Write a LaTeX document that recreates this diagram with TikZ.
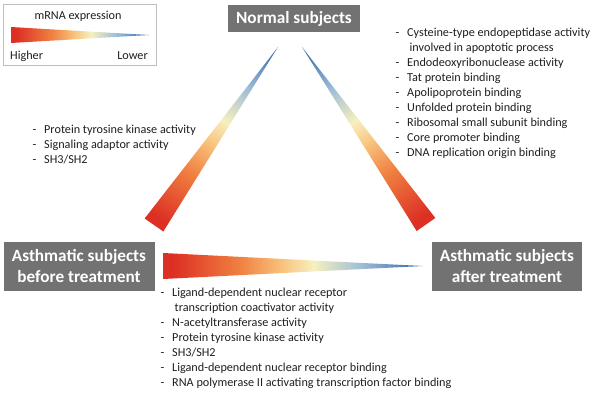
\documentclass[tikz,border=0pt]{standalone}
\usepackage{fontspec}
\setmainfont{Carlito}
\usepackage{xcolor}
\usepackage{tikz}
\usetikzlibrary{calc}

\definecolor{boxgray}{RGB}{114,114,114}
\definecolor{framegray}{RGB}{190,190,190}
\definecolor{txt}{RGB}{30,30,30}
\definecolor{wred}{RGB}{221,48,36}
\definecolor{worange}{RGB}{240,130,66}
\definecolor{wpeach}{RGB}{248,196,126}
\definecolor{wcream}{RGB}{246,240,192}
\definecolor{wsky}{RGB}{160,190,214}
\definecolor{wblue}{RGB}{66,114,178}

\pgfdeclarehorizontalshading{expr}{100bp}{color(0bp)=(wred); color(27bp)=(wred); color(40bp)=(worange); color(48bp)=(wpeach); color(54bp)=(wcream); color(63bp)=(wsky); color(73bp)=(wblue); color(100bp)=(wblue)}

\newcommand{\term}[1]{\makebox[11.5pt][l]{-}#1}
\newcommand{\cont}[1]{\hspace*{14pt}#1}
\newcommand{\gradwedge}[3]{%
  \path let \p1=(#1), \p2=($(#2)-(#1)$) in \pgfextra{%
    \pgfmathsetmacro\wx{\x1}\pgfmathsetmacro\wy{\y1}%
    \pgfmathsetmacro\wang{atan2(\y2,\x2)}\pgfmathsetmacro\wlen{veclen(\x2,\y2)}%
    \global\let\wx\wx\global\let\wy\wy\global\let\wang\wang\global\let\wlen\wlen};
  \begin{scope}[transform canvas={shift={(\wx pt,\wy pt)},rotate=\wang}]
    \shade[shading=expr] (0pt,-#3pt) -- (\wlen pt,0pt) -- (0pt,#3pt) -- cycle;
  \end{scope}}

\begin{document}
\begin{tikzpicture}[
x=1pt,y=-1pt,
group/.style={fill=boxgray, text=white, font=\fontsize{17.2}{21}\selectfont\bfseries, align=center, inner sep=0pt},
terms/.style={font=\fontsize{12.2}{15}\selectfont, text=txt, align=left, anchor=north west, inner sep=0pt},
legtext/.style={font=\fontsize{12.2}{15}\selectfont, text=txt, inner sep=0pt},
legframe/.style={draw=framegray, line width=1pt}
]
\useasboundingbox (0,0) rectangle (595,392);

\draw[legframe] (3,4) rectangle (156,65);
\node[legtext] (legtitle) at (78,16) {mRNA expression};
\node[legtext, anchor=west] (higher) at (10,56) {Higher};
\node[legtext, anchor=east] (lower) at (148,56) {Lower};
\coordinate (leghi) at (11,35);
\coordinate (leglo) at (149,35);
\gradwedge{leghi}{leglo}{8}

\node[group, minimum width=132pt, minimum height=27pt] (normal) at (294,18.5) {Normal subjects};
\node[group, minimum width=151pt, minimum height=49pt] (before) at (79,266.5) {Asthmatic subjects\\before treatment};
\node[group, minimum width=150pt, minimum height=49pt] (after) at (507,266.5) {Asthmatic subjects\\after treatment};

\coordinate (beforeup) at (154,225);
\coordinate (normalleft) at (278,47);
\coordinate (afterup) at (426,224.5);
\coordinate (normalright) at (302,47);
\coordinate (beforeright) at (163,266);
\coordinate (afterleft) at (423,266);
\gradwedge{beforeup}{normalleft}{11.4}
\gradwedge{afterup}{normalright}{11.4}
\gradwedge{beforeright}{afterleft}{13}

\node[terms] (normalterms) at (395.5,28) {\term{Cysteine-type endopeptidase activity}\\\cont{involved in apoptotic process}\\\term{Endodeoxyribonuclease activity}\\\term{Tat protein binding}\\\term{Apolipoprotein binding}\\\term{Unfolded protein binding}\\\term{Ribosomal small subunit binding}\\\term{Core promoter binding}\\\term{DNA replication origin binding}};
\node[terms] (beforeterms) at (32.5,124.5) {\term{Protein tyrosine kinase activity}\\\term{Signaling adaptor activity}\\\term{SH3/SH2}};
\node[terms] (afterterms) at (160.5,287.5) {\term{Ligand-dependent nuclear receptor}\\\cont{transcription coactivator activity}\\\term{N-acetyltransferase activity}\\\term{Protein tyrosine kinase activity}\\\term{SH3/SH2}\\\term{Ligand-dependent nuclear receptor binding}\\\term{RNA polymerase II activating transcription factor binding}};
\end{tikzpicture}
\end{document}
